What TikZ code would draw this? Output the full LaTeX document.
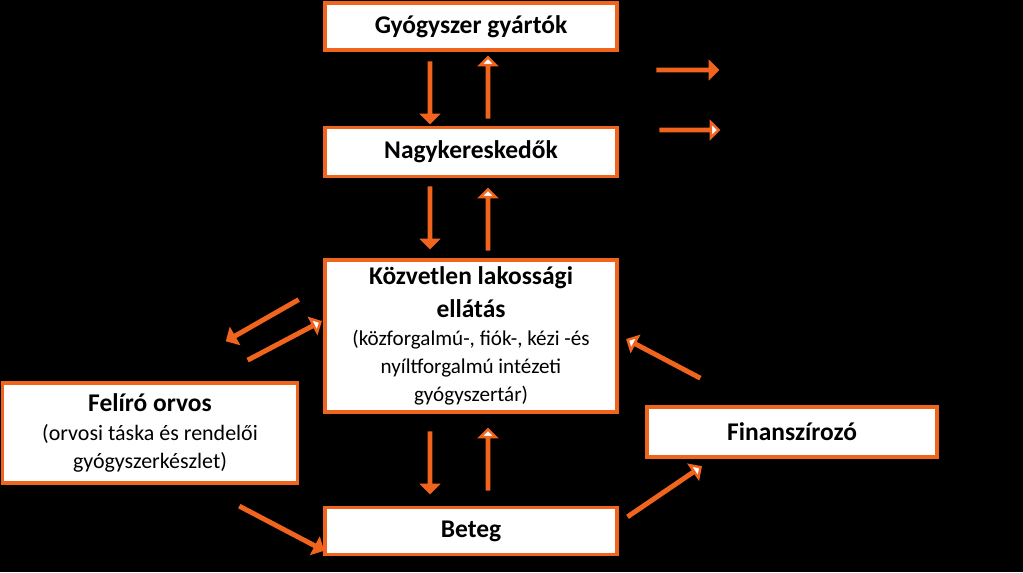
\documentclass[tikz,border=0pt]{standalone}
\usepackage{fontspec}
\setmainfont{Carlito}
\usetikzlibrary{shapes.arrows,positioning}
\definecolor{Narancs}{RGB}{240,100,30}
\newcommand{\cim}[1]{\textbf{\fontsize{14.5}{18}\selectfont #1}}
\tikzset{
  doboz/.style={draw=Narancs, line width=2.2pt, fill=white, align=center, inner sep=2pt},
  nyil/.style={single arrow, draw=Narancs, line width=1.4pt, minimum width=0.28cm,
    single arrow head extend=0.13cm, single arrow head indent=0cm, inner sep=0pt},
  teli/.style={nyil, fill=Narancs},
  ures/.style={nyil, fill=white},
}
\begin{document}
\begin{tikzpicture}[x=0.02cm, y=-0.02cm]
\fill[black] (0,0) rectangle (1023,572);
\useasboundingbox (0,0) rectangle (1023,572);
% boxes
\node[doboz, minimum width=5.84cm, minimum height=0.94cm] (gyarto) at (471,26.5) {\cim{Gyógyszer gyártók}};
\node[doboz, minimum width=5.84cm, minimum height=0.98cm] (nagyker) at (471,152) {\cim{Nagykereskedők}};
\node[doboz, minimum width=5.84cm, minimum height=3.04cm, font=\fontsize{12}{16}\selectfont] (kozv) at (471,336)
  {\cim{Közvetlen lakossági}\\[3pt] \cim{ellátás}\\(közforgalmú-, fiók-, kézi -és\\ nyíltforgalmú intézeti\\ gyógyszertár)};
\node[doboz, minimum width=5.9cm, minimum height=2cm, font=\fontsize{12.5}{16}\selectfont] (feliro) at (150,433)
  {\cim{Felíró orvos}\\(orvosi táska és rendelői\\ gyógyszerkészlet)};
\node[doboz, minimum width=5.8cm, minimum height=1cm] (finansz) at (792,432) {\cim{Finanszírozó}};
\node[doboz, minimum width=5.84cm, minimum height=0.94cm] (beteg) at (471,531) {\cim{Beteg}};
% vertical arrows
\foreach \n/\yd/\yu in {a/92/88, b/217/220, c/462/460}{
  \node[teli, minimum height=1.2cm, rotate=-90] (le\n) at (430,\yd) {};
  \node[ures, minimum height=1.2cm, rotate=90] (fel\n) at (488,\yu) {};
}
% legend
\node[teli, minimum height=1.2cm] (jelteli) at (687,70) {};
\node[ures, minimum height=1.16cm] (jelures) at (689,130) {};
% oblique arrows
\node[teli, minimum height=1.62cm, rotate=209.7] (kiorvos) at (263,320) {};
\node[ures, minimum height=1.62cm, rotate=27.8] (beorvos) at (284,341) {};
\node[ures, minimum height=1.62cm, rotate=152.2] (befin) at (664,359) {};
\node[teli, minimum height=1.86cm, rotate=-27.7] (orvosbeteg) at (281,528) {};
\node[ures, minimum height=1.74cm, rotate=34.2] (betegfin) at (664,492) {};
\end{tikzpicture}
\end{document}
